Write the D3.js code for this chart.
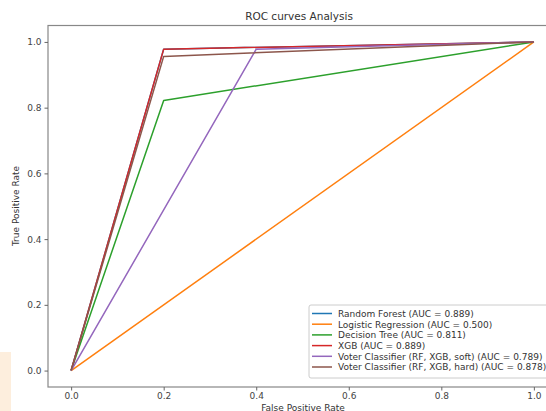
<!DOCTYPE html>
<html><head><meta charset="utf-8">
<script src="https://cdn.jsdelivr.net/npm/d3@7"></script>
<style>body{margin:0;background:#fff;} svg{display:block;font-family:"DejaVu Sans",sans-serif;}</style>
</head><body>
<svg id="c" width="546" height="411"></svg>
<script>
const seriesNames = ["Random Forest","Logistic Regression","Decision Tree","XGB","Voter Classifier (RF, XGB, soft)","Voter Classifier (RF, XGB, hard)"];
const seriesAUC = ["0.889","0.500","0.811","0.889","0.789","0.878"];
const seriesColors = ["#1f77b4","#ff7f0e","#2ca02c","#d62728","#9467bd","#8c564b"];
const fprRF = [0,0.2,1], tprRF = [0,0.978,1];
const fprLR = [0,1], tprLR = [0,1];
const fprDT = [0,0.2,1], tprDT = [0,0.822,1];
const fprXGB = [0,0.2,1], tprXGB = [0,0.978,1];
const fprSoft = [0,0.4,1], tprSoft = [0,0.978,1];
const fprHard = [0,0.2,1], tprHard = [0,0.956,1];
const xTicks = [0,0.2,0.4,0.6,0.8,1.0];
const yTicks = [0,0.2,0.4,0.6,0.8,1.0];

const fprs = [fprRF,fprLR,fprDT,fprXGB,fprSoft,fprHard];
const tprs = [tprRF,tprLR,tprDT,tprXGB,tprSoft,tprHard];

const svg = d3.select("#c");
// peach artifact
svg.append("rect").attr("x",0).attr("y",352).attr("width",11).attr("height",59).attr("fill","#fdeedd");

const x = d3.scaleLinear().domain([-0.05,1.05]).range([48,557]);
const y = d3.scaleLinear().domain([-0.05,1.05]).range([387,25.5]);

// frame
svg.append("rect").attr("x",48).attr("y",25.5).attr("width",557-48).attr("height",387-25.5)
  .attr("fill","none").attr("stroke","#888").attr("stroke-width",1.2);

const xAxis = svg.append("g").attr("transform","translate(0,387)")
  .call(d3.axisBottom(x).tickValues(xTicks).tickFormat(d3.format(".1f")).tickSize(3.5).tickPadding(2));
const yAxis = svg.append("g").attr("transform","translate(48,0)")
  .call(d3.axisLeft(y).tickValues(yTicks).tickFormat(d3.format(".1f")).tickSize(3.5).tickPadding(3));
[xAxis,yAxis].forEach(g=>{
  g.select(".domain").remove();
  g.selectAll("line").attr("stroke","#666");
  g.selectAll("text").attr("fill","#444").attr("font-size","9px").attr("font-family","DejaVu Sans");
});

const line = d3.line().x(d=>x(d[0])).y(d=>y(d[1]));
fprs.forEach((f,i)=>{
  const pts = f.map((v,j)=>[v,tprs[i][j]]);
  svg.append("path").attr("d",line(pts)).attr("fill","none")
    .attr("stroke",seriesColors[i]).attr("stroke-width",1.5).attr("stroke-linejoin","round");
});

svg.append("text").attr("x",299).attr("y",20).attr("text-anchor","middle")
  .attr("font-size","10.5px").attr("fill","#333").text("ROC curves Analysis");
svg.append("text").attr("x",303).attr("y",410.5).attr("text-anchor","middle")
  .attr("font-size","9px").attr("fill","#333").text("False Positive Rate");
svg.append("text").attr("transform","translate(19,206) rotate(-90)").attr("text-anchor","middle")
  .attr("font-size","9px").attr("fill","#333").text("True Positive Rate");

// legend
const lg = svg.append("g");
lg.append("rect").attr("x",309).attr("y",305).attr("width",250).attr("height",73).attr("rx",2)
  .attr("fill","#fff").attr("fill-opacity",0.85).attr("stroke","#ccc");
seriesNames.forEach((n,i)=>{
  const yy = 313.5 + i*10.7;
  lg.append("line").attr("x1",312).attr("x2",332).attr("y1",yy).attr("y2",yy)
    .attr("stroke",seriesColors[i]).attr("stroke-width",1.5);
  lg.append("text").attr("x",338).attr("y",yy+3.3).attr("font-size","9px").attr("fill","#333")
    .text(n+" (AUC = "+seriesAUC[i]+")");
});
</script>
</body></html>
